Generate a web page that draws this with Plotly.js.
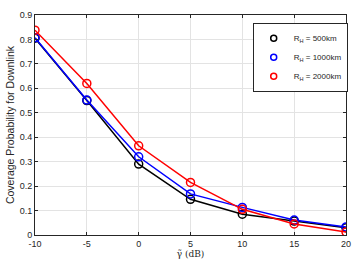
<!DOCTYPE html>
<html><head><meta charset="utf-8">
<script src="https://cdn.plot.ly/plotly-3.0.1.min.js"></script>
<style>html,body{margin:0;padding:0;background:#fff}#c{width:355px;height:264px}</style>
</head><body><div id="c"></div>
<script>
const gammaDb = [-10, -5, 0, 5, 10, 15, 20];
const rh500 = [0.805, 0.55, 0.29, 0.146, 0.085, 0.057, 0.030];
const rh1000 = [0.807, 0.552, 0.32, 0.168, 0.113, 0.061, 0.033];
const rh2000 = [0.838, 0.62, 0.365, 0.215, 0.105, 0.045, 0.012];
const names = ['R<sub>H</sub> = 500km', 'R<sub>H</sub> = 1000km', 'R<sub>H</sub> = 2000km'];
const series = [rh500, rh1000, rh2000];
const colors = ['#000000', '#0000ff', '#ff0000'];

const traces = [];
series.forEach((s, i) => {
  traces.push({x: gammaDb, y: s, mode: 'lines+markers', line: {color: colors[i], width: 1.5}, showlegend: false,
    marker: {symbol: 'circle-open', size: 8, color: colors[i], line: {width: 1.5, color: colors[i]}}});
});
series.forEach((s, i) => {
  traces.push({x: [null], y: [null], mode: 'markers', name: names[i],
    marker: {symbol: 'circle-open', size: 6, color: colors[i], line: {width: 1.5, color: colors[i]}}});
});

const axCommon = {
  showgrid: true, gridcolor: '#e3e3e3', gridwidth: 1,
  showline: true, linecolor: '#262626', linewidth: 1, mirror: 'allticks',
  ticks: 'inside', ticklen: 3, tickcolor: '#262626',
  zeroline: false, tickfont: {family: 'Liberation Sans, Arial', size: 9, color: '#262626'}
};
const layout = {
  width: 355, height: 264,
  margin: {l: 35, r: 7, t: 15, b: 29},
  paper_bgcolor: '#fff', plot_bgcolor: '#fff',
  xaxis: Object.assign({}, axCommon, {range: [-10, 20], tickvals: gammaDb, ticktext: ['-10','-5','0','5','10','15','20'],
    title: {text: 'γ̃ (dB)', font: {family: 'DejaVu Serif, serif', size: 9, color: '#262626'}, standoff: 2}}),
  yaxis: Object.assign({}, axCommon, {range: [0, 0.9], dtick: 0.1, tickformat: '.1~f',
    title: {text: 'Coverage Probability for Downlink', font: {family: 'Liberation Sans, Arial', size: 10.5, color: '#262626'}, standoff: 3}}),
  legend: {x: 0.70, y: 0.965, xanchor: 'left', yanchor: 'top', bgcolor: '#fff', bordercolor: '#262626', borderwidth: 1,
    font: {family: 'Liberation Sans, Arial', size: 8, color: '#262626'}, itemwidth: 30, tracegroupgap: 0},
  showlegend: true
};
Plotly.newPlot('c', traces, layout, {staticPlot: true, displayModeBar: false});
</script></body></html>
